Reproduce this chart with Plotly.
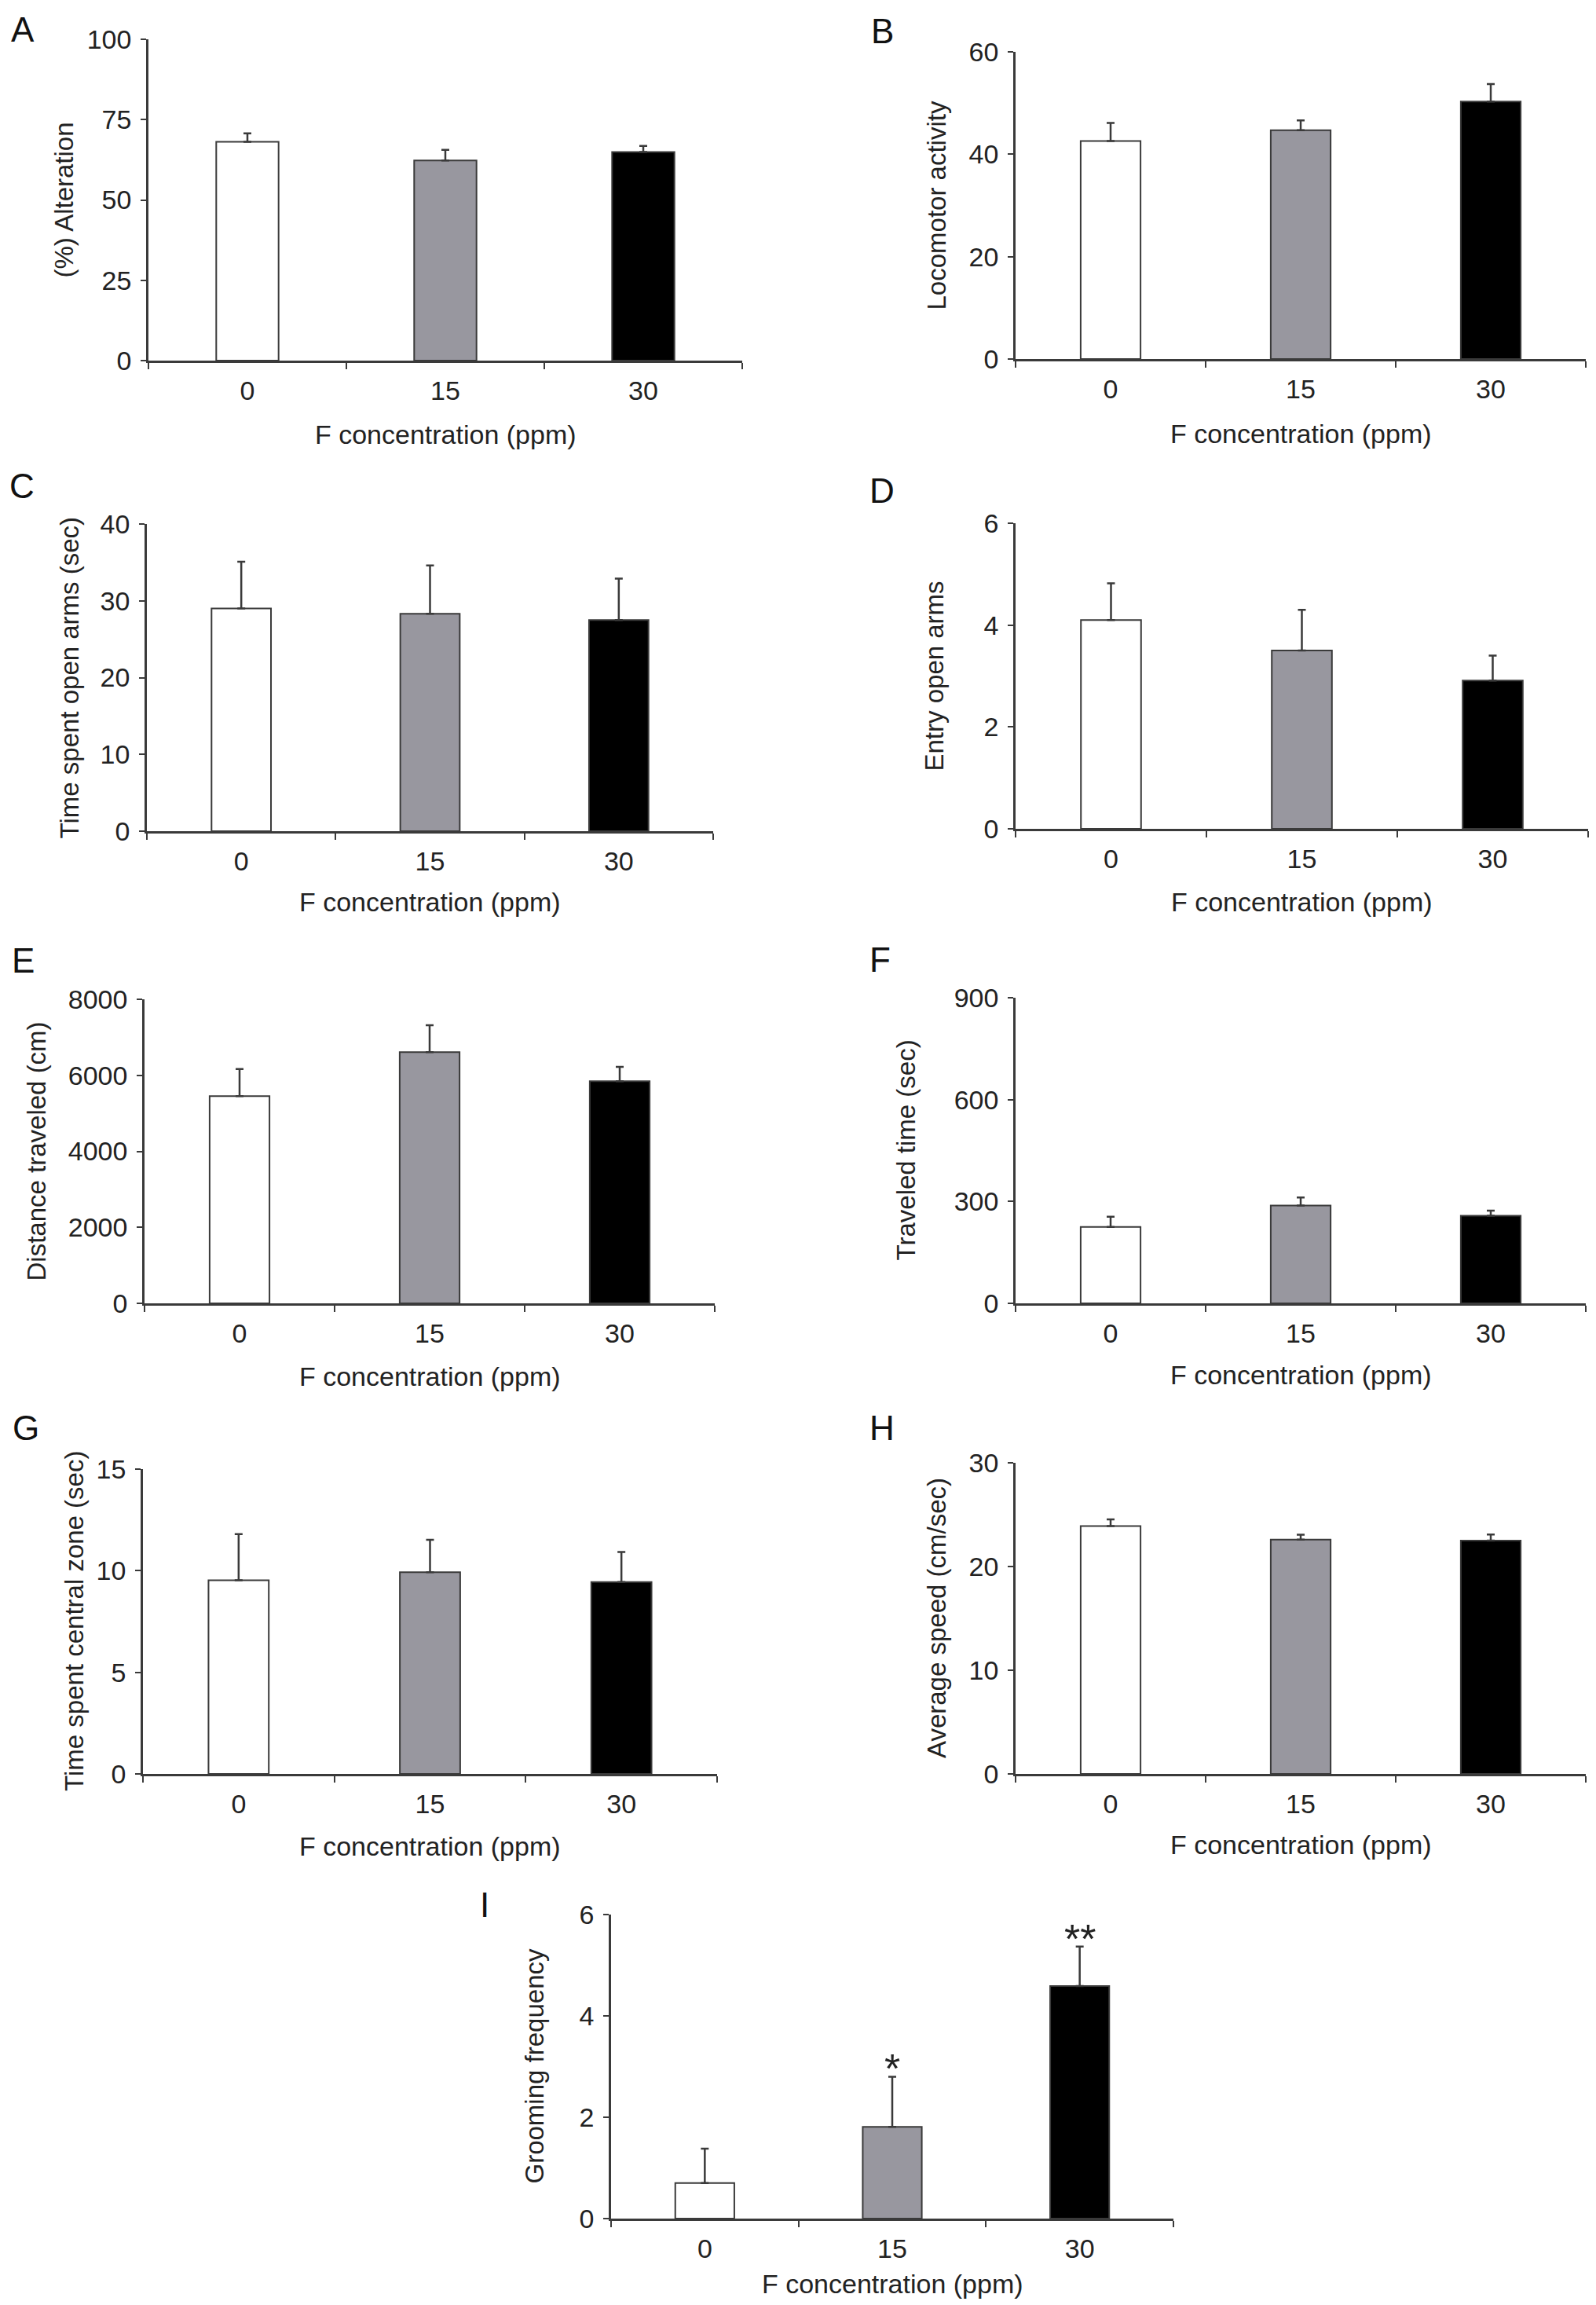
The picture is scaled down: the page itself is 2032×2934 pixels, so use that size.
import plotly.graph_objects as go

# F concentration groups (ppm)
doses = ["0", "15", "30"]
bar_colors = ["white", "#98979f", "black"]

# panel A - Y-maze
alteration = [68.1, 62.3, 64.9]
alteration_err = [2.6, 3.3, 1.9]
# panel B
locomotor = [42.6, 44.7, 50.3]
locomotor_err = [3.5, 1.9, 3.4]
# panels C, D - elevated plus maze
time_open = [29.0, 28.3, 27.5]
time_open_err = [6.1, 6.3, 5.4]
entry_open = [4.10, 3.50, 2.91]
entry_open_err = [0.72, 0.80, 0.49]
# panels E-H - open field
distance = [5450, 6610, 5845]
distance_err = [715, 710, 375]
travel_time = [225, 288, 258]
travel_time_err = [30, 24, 15]
central_time = [9.53, 9.93, 9.44]
central_time_err = [2.27, 1.59, 1.48]
speed = [23.9, 22.6, 22.5]
speed_err = [0.64, 0.47, 0.58]
# panel I
grooming = [0.70, 1.81, 4.59]
grooming_err = [0.68, 0.99, 0.78]
grooming_sig = ["", "*", "**"]

W, H = 2032, 2934
PAD = 8  # default body margin of the html page
FW, FH = W - 2 * PAD, H - 2 * PAD
FONT = "Liberation Sans, Arial, sans-serif"
INK = "#3a3a3a"


def px(p):
    return (p - PAD) / FW


def py(p):
    return 1 - (p - PAD) / FH


# letter, values, errors, y title, y max, tick step
panels = [
    ("A", alteration, alteration_err, "(%) Alteration", 100, 25),
    ("B", locomotor, locomotor_err, "Locomotor activity", 60, 20),
    ("C", time_open, time_open_err, "Time spent open arms (sec)", 40, 10),
    ("D", entry_open, entry_open_err, "Entry open arms", 6, 2),
    ("E", distance, distance_err, "Distance traveled (cm)", 8000, 2000),
    ("F", travel_time, travel_time_err, "Traveled time (sec)", 900, 300),
    ("G", central_time, central_time_err, "Time spent central zone (sec)", 15, 5),
    ("H", speed, speed_err, "Average speed (cm/sec)", 30, 10),
    ("I", grooming, grooming_err, "Grooming frequency", 6, 2),
]

# page layout in screen pixels: plot box (left, right, top, bottom), y-title x, letter (x, y)
boxes = [
    (189, 945, 50, 459, 81, (29, 37)),
    (1293, 2019, 66, 457, 1192, (1123, 40)),
    (187, 908, 667, 1058, 88, (28, 619)),
    (1293, 2022, 666, 1055, 1189, (1123, 625)),
    (184, 910, 1272, 1659, 46, (29, 1222)),
    (1293, 2019, 1270, 1659, 1153, (1120, 1221)),
    (182, 913, 1870, 2258, 94, (33, 1817)),
    (1293, 2019, 1862, 2258, 1192, (1123, 1817)),
    (778, 1494, 2437, 2824, 680, (617, 2424)),
]
xtitle_gap = [94, 95, 90, 93, 93, 91, 92, 90, 83]

fig = go.Figure()
annotations = []

for i, ((letter, vals, errs, ytitle, ymax, step), (l, r, t, b, tx, (lx, ly))) in enumerate(zip(panels, boxes), start=1):
    sfx = "" if i == 1 else str(i)
    fig.add_trace(go.Bar(
        x=doses, y=vals, width=0.315,
        xaxis="x" + sfx, yaxis="y" + sfx,
        marker=dict(color=bar_colors, line=dict(color=INK, width=2)),
        error_y=dict(type="data", array=errs, arrayminus=[0] * len(errs),
                     symmetric=False, color=INK, thickness=2.5, width=5),
        showlegend=False,
    ))
    fig.layout["xaxis" + sfx] = dict(
        domain=[px(l), px(r)], anchor="y" + sfx, type="category",
        range=[-0.5, 2.5], tickson="boundaries", ticks="outside",
        ticklen=8, tickwidth=2, tickcolor=INK, showline=True,
        linecolor=INK, linewidth=2.5, showgrid=False, zeroline=False,
        automargin=False, tickfont=dict(size=34, color="#222"),
        ticklabelstandoff=6,
    )
    fig.layout["yaxis" + sfx] = dict(
        domain=[py(b), py(t)], anchor="x" + sfx,
        range=[0, ymax], tick0=0, dtick=step, ticks="outside",
        ticklen=7, tickwidth=2, tickcolor=INK, showline=True,
        linecolor=INK, linewidth=2.5, showgrid=False, zeroline=False,
        automargin=False, tickfont=dict(size=34, color="#222"),
        ticklabelstandoff=5,
    )
    annotations.append(dict(
        text=ytitle, x=px(tx), y=py((t + b) / 2), xref="paper", yref="paper",
        textangle=-90, xanchor="center", yanchor="middle", showarrow=False,
        font=dict(size=33, color="#222"),
    ))
    annotations.append(dict(
        text="F concentration (ppm)", x=px((l + r) / 2),
        y=py(b + xtitle_gap[i - 1]), xref="paper", yref="paper",
        xanchor="center", yanchor="middle", showarrow=False,
        font=dict(size=34, color="#222"),
    ))
    annotations.append(dict(
        text=letter, x=px(lx), y=py(ly), xref="paper", yref="paper",
        xanchor="center", yanchor="middle", showarrow=False,
        font=dict(size=44, color="#111"),
    ))

# significance marks on panel I (x given as category index)
for k, (v, e, s) in enumerate(zip(grooming, grooming_err, grooming_sig)):
    if s:
        annotations.append(dict(
            text=s, x=k, y=v + e, xref="x9", yref="y9",
            xanchor="center", yanchor="middle", showarrow=False,
            yshift=10, font=dict(size=52, color="#222"),
        ))

fig.update_layout(
    width=FW, height=FH, autosize=False,
    margin=dict(l=0, r=0, t=0, b=0, autoexpand=False),
    paper_bgcolor="white", plot_bgcolor="white",
    font=dict(family=FONT, color="#222"),
    bargap=0.685,
    annotations=annotations,
)

fig.write_html("out.html")
